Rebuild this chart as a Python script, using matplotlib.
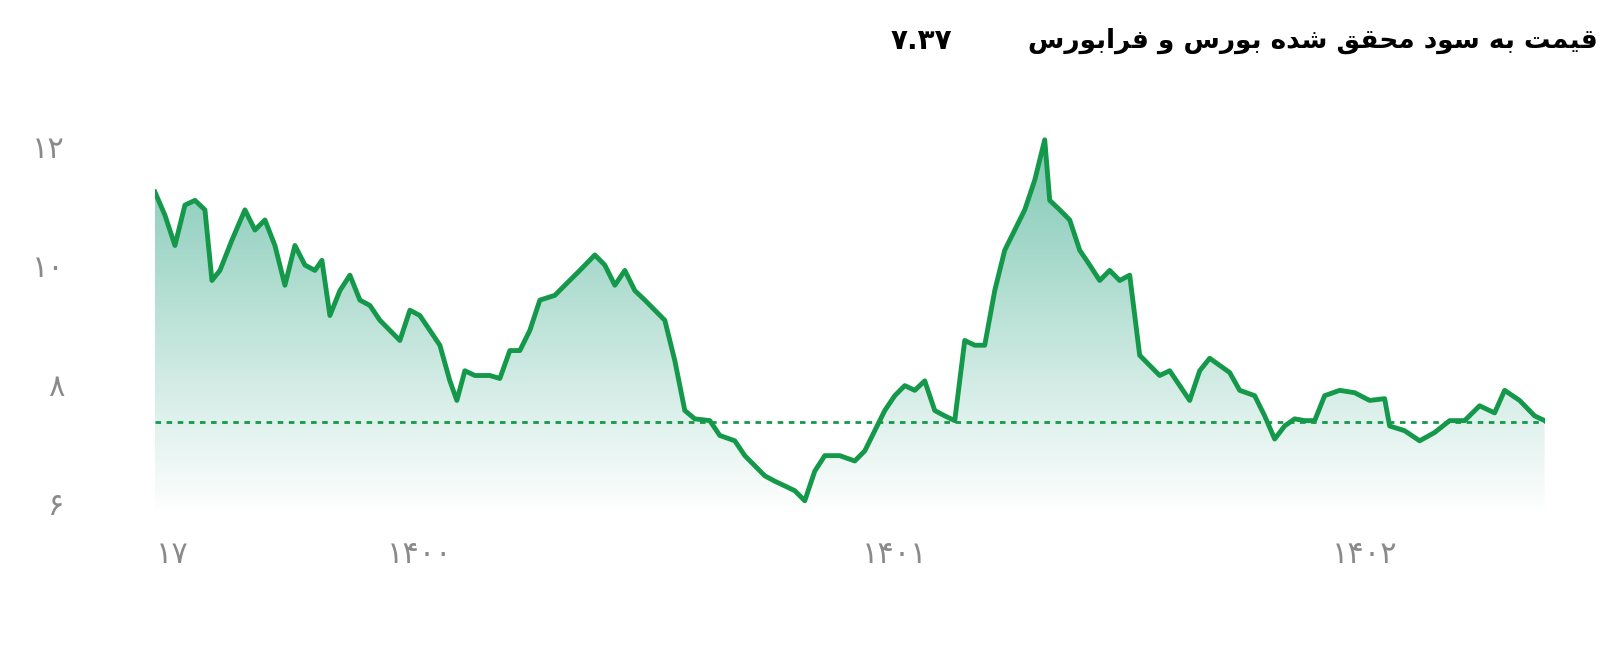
import numpy as np
import matplotlib.pyplot as plt
from matplotlib.patches import Polygon

# --- simple Persian shaping (matplotlib has no bidi / joining) ---
FORMS = {  # isolated, final, initial, medial
    'ا': ('\uFE8D', '\uFE8E', None, None),
    'ب': ('\uFE8F', '\uFE90', '\uFE91', '\uFE92'),
    'ت': ('\uFE95', '\uFE96', '\uFE97', '\uFE98'),
    'ح': ('\uFEA1', '\uFEA2', '\uFEA3', '\uFEA4'),
    'د': ('\uFEA9', '\uFEAA', None, None),
    'ر': ('\uFEAD', '\uFEAE', None, None),
    'س': ('\uFEB1', '\uFEB2', '\uFEB3', '\uFEB4'),
    'ش': ('\uFEB5', '\uFEB6', '\uFEB7', '\uFEB8'),
    'ف': ('\uFED1', '\uFED2', '\uFED3', '\uFED4'),
    'ق': ('\uFED5', '\uFED6', '\uFED7', '\uFED8'),
    'م': ('\uFEE1', '\uFEE2', '\uFEE3', '\uFEE4'),
    'ه': ('\uFEE9', '\uFEEA', '\uFEEB', '\uFEEC'),
    'و': ('\uFEED', '\uFEEE', None, None),
    'ی': ('\uFBFC', '\uFBFD', '\uFBFE', '\uFBFF'),
}

def shape(s):
    out = []
    for i, c in enumerate(s):
        if c not in FORMS:
            out.append(c)
            continue
        prev = s[i - 1] if i > 0 else ' '
        nxt = s[i + 1] if i + 1 < len(s) else ' '
        join_prev = prev in FORMS and FORMS[prev][2] is not None
        join_next = nxt in FORMS and FORMS[c][2] is not None
        f = FORMS[c]
        if join_prev and join_next:
            out.append(f[3])
        elif join_prev:
            out.append(f[1])
        elif join_next:
            out.append(f[2])
        else:
            out.append(f[0])
    return ''.join(out)[::-1]

title = 'قیمت به سود محقق شده بورس و فرابورس'
last_value = '۷.۳۷'
ref_level = 7.37

# chart days from start of series, and P/E values
day = [0, 10, 20, 30, 40, 50, 57, 65, 77, 90, 100, 110, 120, 130, 140, 150, 160, 167,
       175, 185, 195, 205, 215, 225, 235, 245, 255, 265, 275, 285, 295, 302, 310, 320,
       335, 345, 355, 365, 375, 385, 400, 410, 425, 440, 450, 460, 470, 480, 490, 500,
       510, 520, 530, 540, 555, 565, 580, 590, 600, 610, 620, 630, 640, 650, 660, 670,
       685, 700, 710, 720, 730, 740, 750, 760, 770, 780, 790, 800, 810, 820, 830, 840,
       850, 860, 870, 880, 890, 895, 905, 915, 925, 935, 945, 955, 965, 975, 985, 995,
       1005, 1015, 1025, 1035, 1045, 1055, 1065, 1075, 1085, 1100, 1110, 1120, 1130,
       1140, 1150, 1160, 1170, 1185, 1200, 1215, 1230, 1235, 1250, 1265, 1280, 1295,
       1310, 1325, 1340, 1350, 1365, 1380, 1390]
pe = [11.24, 10.85, 10.34, 11.02, 11.10, 10.94, 9.75, 9.92, 10.43, 10.94, 10.60, 10.77,
      10.34, 9.67, 10.34, 10.01, 9.92, 10.09, 9.16, 9.58, 9.84, 9.42, 9.33, 9.08, 8.91,
      8.74, 9.25, 9.16, 8.91, 8.66, 8.06, 7.73, 8.23, 8.15, 8.15, 8.10, 8.57, 8.57, 8.91,
      9.42, 9.50, 9.67, 9.92, 10.18, 10.01, 9.67, 9.92, 9.58, 9.42, 9.25, 9.08, 8.40,
      7.56, 7.42, 7.39, 7.14, 7.05, 6.80, 6.63, 6.46, 6.37, 6.29, 6.21, 6.04, 6.54, 6.80,
      6.80, 6.71, 6.88, 7.22, 7.56, 7.81, 7.98, 7.90, 8.06, 7.56, 7.47, 7.39, 8.74, 8.66,
      8.66, 9.58, 10.26, 10.60, 10.94, 11.44, 12.12, 11.10, 10.94, 10.77, 10.26, 10.01,
      9.75, 9.92, 9.75, 9.84, 8.49, 8.32, 8.15, 8.23, 7.98, 7.73, 8.23, 8.44, 8.32, 8.20,
      7.90, 7.81, 7.47, 7.08, 7.30, 7.42, 7.39, 7.39, 7.81, 7.90, 7.86, 7.73, 7.76, 7.30,
      7.22, 7.05, 7.19, 7.39, 7.39, 7.64, 7.52, 7.90, 7.73, 7.47, 7.39]
xtick_pos = [17, 265, 740, 1210]
xtick_lab = ['۱۷', '۱۴۰۰', '۱۴۰۱', '۱۴۰۲']
ytick_pos = [6, 8, 10, 12]
ytick_lab = ['۶', '۸', '۱۰', '۱۲']

green = '#14984a'
fig = plt.figure(figsize=(16.14, 6.54), dpi=100)
ax = fig.add_axes([0.096, 0.2125, 0.861, 0.581])
ymin, ymax = 5.8, 12.2
ax.set_xlim(day[0], day[-1])
ax.set_ylim(ymin, ymax)

# gradient fill under the line
grad = np.linspace(0, 1, 256).reshape(-1, 1)
cmap = plt.matplotlib.colors.LinearSegmentedColormap.from_list('g', ['#ffffff', '#6bbfa8'])
im = ax.imshow(grad, extent=[day[0], day[-1], ymin, ymax], origin='lower',
               aspect='auto', cmap=cmap, vmin=0, vmax=1.15, zorder=1)
poly = Polygon(list(zip(day, pe)) + [(day[-1], ymin), (day[0], ymin)],
               closed=True, facecolor='none', edgecolor='none')
ax.add_patch(poly)
im.set_clip_path(poly)

ax.plot(day, pe, color=green, lw=3.5, zorder=3, solid_joinstyle='round')
ax.axhline(ref_level, color=green, lw=2, ls=(0, (2, 2)), zorder=2)

for s in ax.spines.values():
    s.set_visible(False)
ax.set_xticks(xtick_pos)
ax.set_xticklabels(xtick_lab)
ax.set_yticks(ytick_pos)
ax.set_yticklabels(ytick_lab)
ax.tick_params(length=0, colors='#8a8a8a', labelsize=22)
ax.tick_params(axis='y', pad=65)
ax.tick_params(axis='x', pad=18)

fig.text(0.99, 0.938, shape(title), ha='right', va='center', fontsize=19,
         fontweight='bold', family=['DejaVu Sans'])
fig.text(0.59, 0.938, last_value, ha='right', va='center', fontsize=20,
         fontweight='bold', family=['DejaVu Sans'])

fig.savefig('out.png', dpi=100)
